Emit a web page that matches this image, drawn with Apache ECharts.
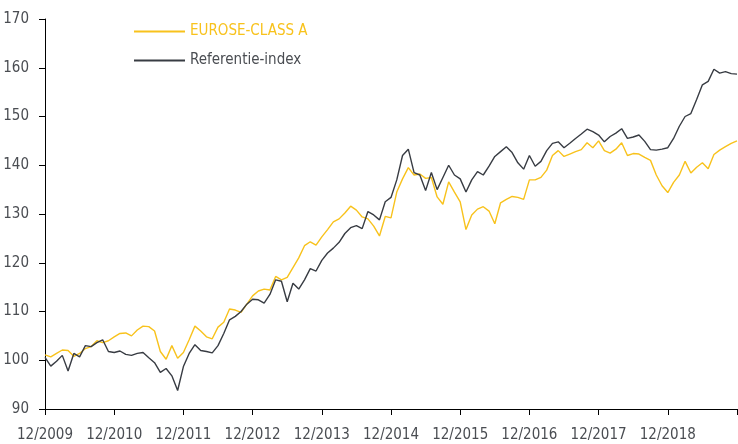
<!DOCTYPE html>
<html>
<head>
<meta charset="utf-8">
<script src="https://cdn.jsdelivr.net/npm/echarts@6/dist/echarts.min.js"></script>
<style>
  html, body { margin: 0; padding: 0; background: #fff; }
  #chart { width: 738px; height: 444px; }
</style>
</head>
<body>
<div id="chart"></div>
<script>
// monthly values, index 0 = 12/2009, index 120 = 12/2019
var euroseClassA = [
  101.1, 100.7, 101.4, 102.1, 102.0, 100.8, 101.4, 102.4, 102.8, 104.0,
  103.6, 104.0, 104.8, 105.5, 105.6, 105.0, 106.2, 107.0, 106.9, 106.0,
  101.8, 100.2, 103.0, 100.4, 101.6, 104.2, 107.0, 106.0, 104.8, 104.4,
  106.8, 107.8, 110.5, 110.3, 109.8, 111.5, 113.2, 114.2, 114.6, 114.4,
  117.2, 116.5, 117.0, 119.0, 121.0, 123.5, 124.3, 123.6, 125.3, 126.8,
  128.4, 129.0, 130.2, 131.6, 130.8, 129.4, 129.0, 127.5, 125.5, 129.5,
  129.2, 134.5, 137.2, 139.5, 138.0, 138.2, 137.3, 137.5, 133.5, 132.0,
  136.6, 134.5, 132.5, 126.8, 129.8, 131.0, 131.5, 130.6, 128.0, 132.3,
  133.0, 133.6, 133.4, 133.0, 137.0, 137.0, 137.5, 139.0, 142.0, 143.0,
  141.8, 142.3, 142.8, 143.2, 144.6, 143.6, 145.0, 143.0, 142.5, 143.3,
  144.6, 142.0, 142.4, 142.3, 141.6, 141.0, 138.0, 135.8, 134.4, 136.5,
  138.0, 140.8, 138.4, 139.6, 140.5, 139.3, 142.2, 143.1, 143.8, 144.5,
  145.0
];
var referentieIndex = [
  100.6, 98.8, 99.8, 101.0, 97.8, 101.4, 100.7, 103.0, 102.8, 103.6,
  104.2, 101.8, 101.6, 101.9, 101.2, 101.0, 101.4, 101.6, 100.5, 99.5,
  97.5, 98.3, 96.8, 93.8, 98.7, 101.4, 103.2, 102.0, 101.8, 101.5,
  103.0, 105.5, 108.3, 109.0, 110.0, 111.5, 112.5, 112.4, 111.7, 113.5,
  116.5, 116.2, 112.0, 115.8, 114.6, 116.5, 118.8, 118.3, 120.5, 122.0,
  123.0, 124.2, 126.0, 127.2, 127.6, 127.0, 130.5, 129.8, 128.8, 132.5,
  133.4, 137.0, 142.0, 143.3, 138.5, 138.0, 134.8, 138.5, 135.0, 137.5,
  140.0, 138.0, 137.2, 134.5, 137.0, 138.7, 138.0, 139.8, 141.8, 142.8,
  143.8, 142.6, 140.5, 139.2, 142.0, 139.8, 140.8, 143.0, 144.5, 144.8,
  143.6, 144.5, 145.5, 146.4, 147.4, 146.9, 146.2, 144.8, 145.9, 146.6,
  147.5, 145.5, 145.8, 146.2, 144.9, 143.2, 143.1, 143.3, 143.6, 145.5,
  148.0, 150.0, 150.6, 153.5, 156.5, 157.2, 159.7, 158.9, 159.2, 158.8,
  158.7
];
var xTickLabels = ['12/2009', '12/2010', '12/2011', '12/2012', '12/2013',
  '12/2014', '12/2015', '12/2016', '12/2017', '12/2018', ''];
var seriesNames = ['EUROSE-CLASS A', 'Referentie-index'];
var colors = ['#F8C21C', '#383C43'];

var font = '"DejaVu Sans Condensed", "Liberation Sans", sans-serif';

function toPairs(arr) {
  return arr.map(function (v, i) { return [i, v]; });
}

var myChart = echarts.init(document.getElementById('chart'));
myChart.setOption({
  animation: false,
  grid: { left: 45, right: 1, top: 19, bottom: 35, containLabel: false, outerBoundsMode: 'none' },
  legend: {
    orient: 'vertical',
    left: 129,
    top: 19,
    itemWidth: 51,
    itemHeight: 2,
    itemGap: 14,
    icon: 'rect',
    textStyle: { fontFamily: font, fontSize: 15 },
    data: [
      { name: seriesNames[0], textStyle: { color: colors[0] } },
      { name: seriesNames[1], textStyle: { color: '#4a4d52' } }
    ]
  },
  xAxis: {
    type: 'value',
    min: 0,
    max: 120,
    interval: 12,
    splitLine: { show: false },
    axisLine: { lineStyle: { color: '#000', width: 1 } },
    axisTick: { length: 6, lineStyle: { color: '#000' } },
    axisLabel: {
      margin: 19,
      color: '#4a4d52',
      fontFamily: font,
      fontSize: 15,
      showMaxLabel: true,
      formatter: function (v) { return xTickLabels[v / 12]; }
    }
  },
  yAxis: {
    type: 'value',
    min: 90,
    max: 170,
    interval: 10,
    splitLine: { show: false },
    axisLine: { show: true, lineStyle: { color: '#000', width: 1 } },
    axisTick: { show: true, length: 6, lineStyle: { color: '#000' } },
    axisLabel: {
      margin: 16,
      color: '#4a4d52',
      fontFamily: font,
      fontSize: 15
    }
  },
  series: [
    {
      name: seriesNames[0],
      type: 'line',
      showSymbol: false,
      data: toPairs(euroseClassA),
      itemStyle: { color: colors[0] },
      lineStyle: { color: colors[0], width: 1.4 },
      z: 2
    },
    {
      name: seriesNames[1],
      type: 'line',
      showSymbol: false,
      data: toPairs(referentieIndex),
      itemStyle: { color: colors[1] },
      lineStyle: { color: colors[1], width: 1.4 },
      z: 3
    }
  ]
});
</script>
</body>
</html>
